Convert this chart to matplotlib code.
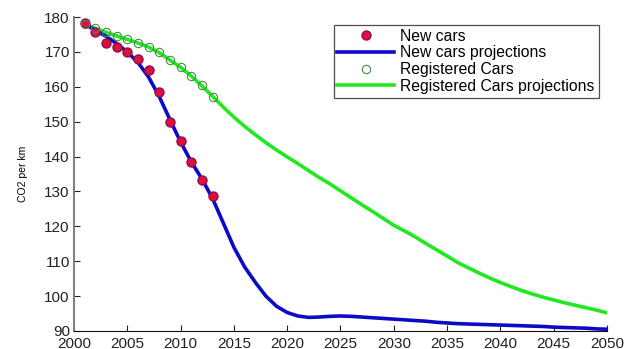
import matplotlib
matplotlib.use("Agg")
import matplotlib.pyplot as plt

plt.rcParams['font.family'] = ['Liberation Sans', 'DejaVu Sans']

# measured averages (g CO2 per km)
obs_years = list(range(2001, 2014))
new_cars = [178.2, 175.6, 172.7, 171.3, 170.1, 168.0, 164.8,
            158.6, 150.0, 144.5, 138.4, 133.3, 128.7]
registered_cars = [178.0, 176.8, 175.6, 174.6, 173.7, 172.7, 171.5,
                   169.9, 167.7, 165.8, 163.1, 160.5, 157.2]

# projections to 2050
proj_years = list(range(2001, 2051))
new_proj = [178.0, 176.2, 174.5, 172.4, 170.0, 167.0, 162.8, 157.2, 150.6, 144.2,
            138.5, 133.6, 128.0, 121.0, 114.0, 108.4, 104.0, 100.0, 97.1, 95.3,
            94.3, 93.9, 94.0, 94.2, 94.3, 94.2, 94.0, 93.8, 93.6, 93.4,
            93.2, 93.0, 92.8, 92.5, 92.3, 92.1, 92.0, 91.9, 91.8, 91.7,
            91.6, 91.5, 91.4, 91.3, 91.1, 91.0, 90.9, 90.8, 90.6, 90.5]
reg_proj = [178.0, 176.8, 175.6, 174.6, 173.6, 172.6, 171.4, 169.8, 167.7, 165.6,
            163.1, 160.3, 157.3, 154.2, 151.3, 148.7, 146.3, 144.0, 141.9, 139.9,
            138.0, 136.0, 134.0, 132.2, 130.2, 128.2, 126.2, 124.3, 122.3, 120.3,
            118.7, 117.0, 115.1, 113.3, 111.5, 109.6, 108.1, 106.6, 105.2, 103.9,
            102.7, 101.6, 100.6, 99.7, 98.9, 98.1, 97.4, 96.7, 96.0, 95.2]

fig = plt.figure(figsize=(6.34, 3.49), dpi=100)
ax = fig.add_axes([0.1167, 0.0516, 0.8407, 0.8994])

ax.plot(obs_years, new_cars, 'o', color='#e0103c', markeredgecolor='#8a1050',
        markersize=6.5, label='New cars', zorder=4)
ax.plot(proj_years, new_proj, '-', color='#0a0ac8', linewidth=2.6,
        label='New cars projections', zorder=3)
ax.plot(obs_years, registered_cars, 'o', markerfacecolor='none',
        markeredgecolor='#4a8a4a', markeredgewidth=0.8, markersize=6,
        label='Registered Cars', zorder=4)
ax.plot(proj_years, reg_proj, '-', color='#22e822', linewidth=2.6,
        label='Registered Cars projections', zorder=2)

ax.set_xlim(2000, 2050)
ax.set_ylim(90, 180)
ax.set_xticks(range(2000, 2051, 5))
ax.set_yticks(range(90, 181, 10))
ax.tick_params(direction='in', length=4, labelsize=11, colors='#222222')
ax.tick_params(axis='x', pad=4)
ax.tick_params(axis='y', pad=3)
ax.spines['top'].set_visible(False)
ax.spines['right'].set_visible(False)
ax.spines['left'].set_color('#808080')
ax.spines['left'].set_linewidth(1.5)
ax.spines['bottom'].set_color('#111111')
ax.set_ylabel('CO2 per km', fontsize=7.5, labelpad=12)

leg = ax.legend(loc='upper right', bbox_to_anchor=(0.99, 0.985), fontsize=11.3,
                frameon=True, fancybox=False, borderpad=0.25, labelspacing=0.1,
                handlelength=3.6, handletextpad=0.4, borderaxespad=0.2)
leg.get_frame().set_edgecolor('#222222')
leg.get_frame().set_linewidth(0.9)

fig.savefig('out.png', dpi=100)
